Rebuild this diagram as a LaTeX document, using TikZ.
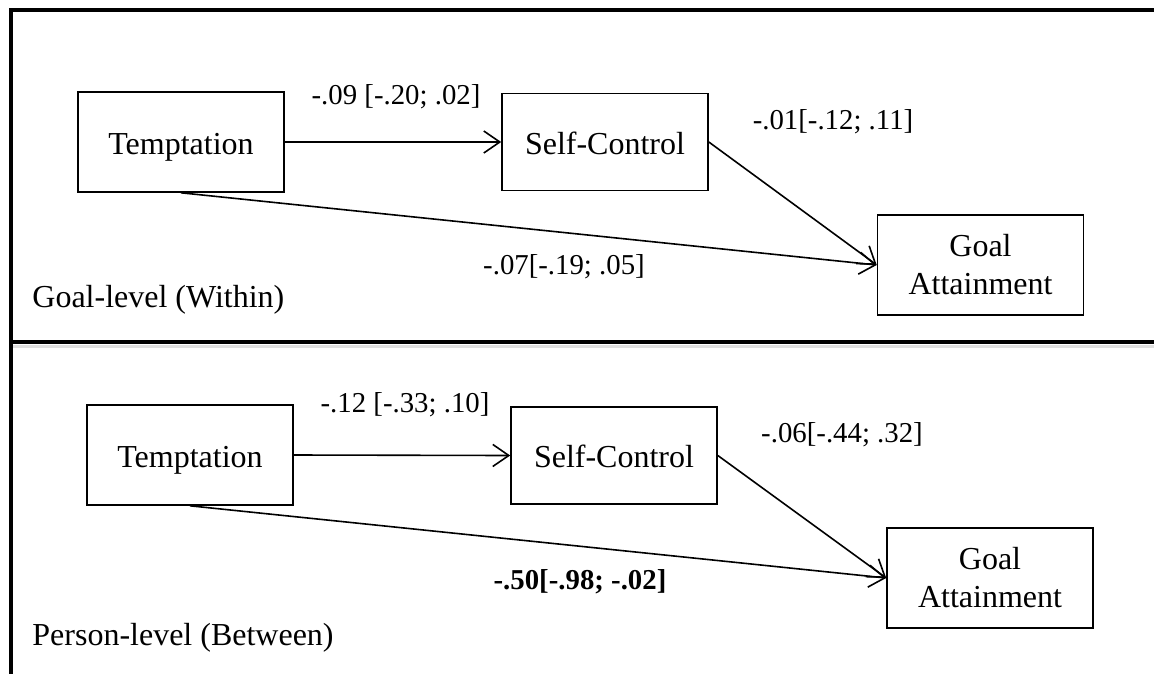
\documentclass[tikz,border=0pt]{standalone}
\usepackage{fontspec}
\setmainfont{Liberation Serif}
\usetikzlibrary{shapes, arrows.meta, positioning}
\tikzstyle{block} = [draw, fill=white, rectangle, line width=0.8pt,
    minimum height=50pt, minimum width=103pt, align=center]
\tikzstyle{single} = [text height=12pt, text depth=0pt]
\tikzstyle{coef} = [inner sep=0pt, font=\fontsize{14.4}{17}\selectfont]
\tikzstyle{level} = [inner sep=0pt, anchor=west]
\tikzstyle{link} = [draw, line width=0.8pt, ->]
\tikzstyle{frame} = [line width=2pt]

\begin{document}
\begin{tikzpicture}[auto, >={Straight Barb[length=8pt,width=11pt]},
    x=0.5pt, y=-0.5pt, font=\fontsize{16}{19}\selectfont]
    \useasboundingbox (0,0) rectangle (1154,674);
    \draw [frame] (1154,10.5) -- (11,10.5) -- (11,674);
    \draw [gray!25, line width=1.5pt] (13,346.5) -- (1154,346.5);
    \draw [frame] (11,341.5) -- (1154,341.5);

    \node [block, single] (tempw) at (181,142) {Temptation};
    \node [block, single, minimum height=48.5pt] (selfw) at (605,142) {Self-Control};
    \node [block] (goalw) at (980.5,265) {Goal\\Attainment};
    \draw [link] (tempw.east) -- (selfw.west);
    \draw [link] (selfw.east) -- (goalw.west);
    \draw [link] (tempw.south) -- (goalw.west);
    \node [coef] (aw) at (396,97) {-.09 [-.20; .02]};
    \node [coef] (bw) at (833,122) {-.01[-.12; .11]};
    \node [coef] (cw) at (564,267) {-.07[-.19; .05]};
    \node [level] (within) at (32,300) {Goal-level (Within)};

    \node [block, single] (tempb) at (190,455) {Temptation};
    \node [block, single, minimum height=48.5pt] (selfb) at (614,455.5) {Self-Control};
    \node [block] (goalb) at (990,578) {Goal\\Attainment};
    \draw [link] (tempb.east) -- (selfb.west);
    \draw [link] (selfb.east) -- (goalb.west);
    \draw [link] (tempb.south) -- (goalb.west);
    \node [coef] (ab) at (405,405) {-.12 [-.33; .10]};
    \node [coef] (bb) at (842,435) {-.06[-.44; .32]};
    \node [coef] (cb) at (580,582) {\textbf{-.50[-.98; -.02]}};
    \node [level] (between) at (32,638) {Person-level (Between)};
\end{tikzpicture}
\end{document}
